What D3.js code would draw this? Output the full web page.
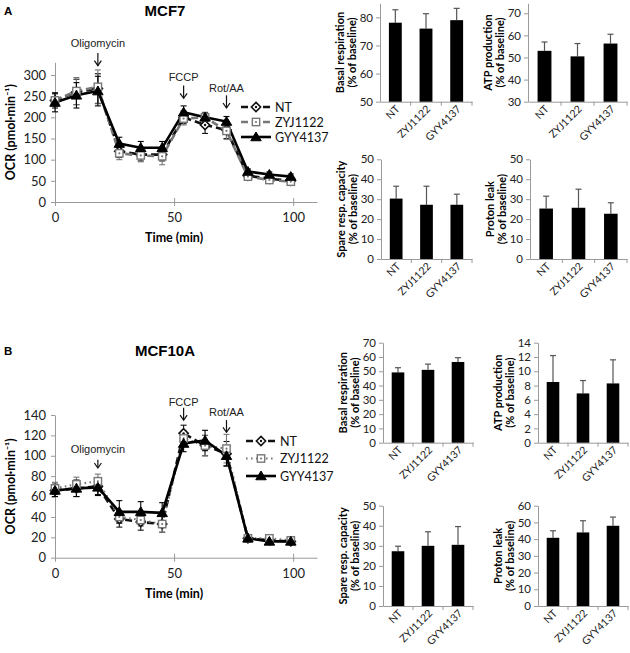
<!DOCTYPE html>
<html><head><meta charset="utf-8">
<script src="https://cdn.jsdelivr.net/npm/d3@7"></script>
<style>
body{margin:0;background:#fff;}
svg{display:block;font-family:"Liberation Sans",Arial,sans-serif;}
</style></head><body>
<svg id="c" width="630" height="653"></svg>
<script>
// ---------- data ----------
const times = [0, 9, 18, 27, 36, 45, 54, 63, 72, 81, 90, 99];
const seriesNames = ["NT", "ZYJ1122", "GYY4137"];

const mcf7NT     = [240, 260, 268, 120, 112, 112, 200, 182, 170, 62, 55, 50];
const mcf7NTErr  = [18, 30, 35, 15, 15, 15, 15, 20, 20, 8, 6, 6];
const mcf7ZYJ    = [240, 262, 272, 115, 110, 108, 197, 200, 168, 60, 52, 48];
const mcf7ZYJErr = [15, 32, 40, 15, 15, 20, 15, 12, 20, 6, 6, 6];
const mcf7GYY    = [235, 252, 262, 138, 128, 128, 212, 200, 190, 72, 65, 60];
const mcf7GYYErr = [22, 30, 35, 15, 15, 15, 15, 10, 12, 6, 6, 6];

const mcf10aNT     = [66, 68, 70, 38, 35, 33, 122, 110, 102, 19, 17, 16];
const mcf10aNTErr  = [6, 8, 8, 8, 8, 8, 8, 10, 12, 3, 3, 2];
const mcf10aZYJ    = [68, 72, 75, 40, 37, 33, 117, 110, 107, 19, 19, 17];
const mcf10aZYJErr = [6, 7, 7, 6, 6, 8, 8, 10, 14, 3, 3, 2];
const mcf10aGYY    = [66, 68, 69, 45, 45, 44, 112, 115, 100, 19, 16, 16];
const mcf10aGYYErr = [6, 8, 8, 11, 10, 10, 8, 10, 10, 3, 3, 2];

const mcf7Ticks = [0, 50, 100, 150, 200, 250, 300];
const mcf10aTicks = [0, 20, 40, 60, 80, 100, 120, 140];
const timeTicks = [0, 50, 100];

const injectionsA = [
  {label: "Oligomycin", t: 18, tip: 322, base: 352, text: 366},
  {label: "FCCP", t: 54, tip: 245, base: 275, text: 285},
  {label: "Rot/AA", t: 72, tip: 222, base: 252, text: 259}
];
const injectionsB = [
  {label: "Oligomycin", t: 18, tip: 88, base: 96, text: 103},
  {label: "FCCP", t: 54, tip: 135, base: 147, text: 149},
  {label: "Rot/AA", t: 72, tip: 123, base: 135, text: 139}
];

const barCats = ["NT", "ZYJ1122", "GYY4137"];
const mcf7Basal = [78.1, 76.0, 79.0];     const mcf7BasalErr = [4.6, 5.3, 4.2];
const mcf7ATP = [53.0, 50.5, 56.3];       const mcf7ATPErr = [4.0, 5.8, 4.2];
const mcf7Spare = [30.3, 27.2, 27.2];     const mcf7SpareErr = [6.2, 9.3, 5.3];
const mcf7Leak = [25.3, 25.7, 22.7];      const mcf7LeakErr = [6.2, 9.3, 5.5];
const mcf10aBasal = [49.2, 51.0, 56.5];   const mcf10aBasalErr = [3.3, 4.0, 3.0];
const mcf10aATP = [8.5, 6.9, 8.3];        const mcf10aATPErr = [3.7, 1.8, 3.3];
const mcf10aSpare = [27.3, 30.0, 30.5];   const mcf10aSpareErr = [2.5, 7.0, 9.1];
const mcf10aLeak = [40.8, 44.0, 48.0];    const mcf10aLeakErr = [4.2, 7.0, 5.2];

// ---------- drawing ----------
const svg = d3.select("#c");
const AXC = "#9a9a9a";
const FONT2 = "Lato, 'Open Sans', sans-serif";

function styleAxis(g) {
  g.select(".domain").attr("stroke", AXC).attr("stroke-width", 1);
  g.selectAll(".tick line").attr("stroke", AXC);
  g.selectAll(".tick text").attr("fill", "#222").attr("font-family", FONT2);
}

function marker(g, type, color, size) {
  const s = size;
  if (type === "diamond") {
    g.append("path").attr("d", `M0,${-s}L${s},0L0,${s}L${-s},0Z`)
      .attr("fill", "#fff").attr("stroke", color).attr("stroke-width", 1.6);
    g.append("circle").attr("r", 1.2).attr("fill", color);
  } else if (type === "square") {
    g.append("rect").attr("x", -s * 0.8).attr("y", -s * 0.8).attr("width", s * 1.6).attr("height", s * 1.6)
      .attr("fill", "#fff").attr("stroke", color).attr("stroke-width", 1.4);
    g.append("circle").attr("r", 1.1).attr("fill", color);
  } else {
    g.append("path").attr("d", `M0,${-s}L${s * 1.05},${s * 0.75}L${-s * 1.05},${s * 0.75}Z`)
      .attr("fill", color).attr("stroke", color).attr("stroke-width", 1);
  }
}

function linePanel(cfg) {
  const x = d3.scaleLinear().domain([0, 110]).range([55, 317]);
  const y = d3.scaleLinear().domain(cfg.yDomain).range(cfg.yRange);
  const g = svg.append("g");

  const ya = g.append("g").attr("transform", `translate(${x(0)},0)`)
    .call(d3.axisLeft(y).tickValues(cfg.yTicks).tickSize(4).tickPadding(5).tickSizeOuter(0));
  styleAxis(ya);
  ya.selectAll(".tick text").attr("font-size", 13);

  const xa = g.append("g").attr("transform", `translate(0,${y(0)})`)
    .call(d3.axisBottom(x).tickValues(timeTicks).tickSize(4).tickPadding(7).tickSizeOuter(0));
  styleAxis(xa);
  xa.selectAll(".tick text").attr("font-size", 13);
  xa.selectAll(".tick line").attr("y1", -4);

  g.append("text").attr("x", x(50)).attr("y", y(0) + 40).attr("text-anchor", "middle")
    .attr("font-weight", "bold").attr("font-size", 12.5).attr("font-family", FONT2).text("Time (min)");
  g.append("text").attr("transform", `translate(15,${(y(0) + y(cfg.yDomain[1])) / 2}) rotate(-90)`)
    .attr("text-anchor", "middle").attr("font-weight", "bold").attr("font-size", 12.5)
    .attr("font-family", FONT2).text("OCR (pmol·min⁻¹)");

  // title & letter
  svg.append("text").attr("x", 165).attr("y", cfg.titleY).attr("text-anchor", "middle")
    .attr("font-weight", "bold").attr("font-size", 15).text(cfg.title);
  svg.append("text").attr("x", 4).attr("y", cfg.titleY - 1).attr("font-weight", "bold")
    .attr("font-size", 11.5).text(cfg.letter);

  // error bars
  cfg.series.forEach(s => {
    const eg = g.append("g").attr("stroke", s.color).attr("stroke-width", 1.1);
    times.forEach((t, i) => {
      const lo = y(s.vals[i] - s.errs[i]), hi = y(s.vals[i] + s.errs[i]);
      eg.append("line").attr("x1", x(t)).attr("x2", x(t)).attr("y1", lo).attr("y2", hi);
      eg.append("line").attr("x1", x(t) - 3).attr("x2", x(t) + 3).attr("y1", lo).attr("y2", lo);
      eg.append("line").attr("x1", x(t) - 3).attr("x2", x(t) + 3).attr("y1", hi).attr("y2", hi);
    });
  });
  // lines
  const line = d3.line().x((d, i) => x(times[i])).y(d => y(d));
  cfg.series.forEach(s => {
    g.append("path").attr("d", line(s.vals)).attr("fill", "none").attr("stroke", s.color)
      .attr("stroke-width", s.width).attr("stroke-dasharray", s.dash);
  });
  // markers
  cfg.series.forEach(s => {
    s.vals.forEach((v, i) => {
      const mg = g.append("g").attr("transform", `translate(${x(times[i])},${y(v)})`);
      marker(mg, s.marker, s.color, s.marker === "triangle" ? 5 : 4.6);
    });
  });

  // injections
  cfg.injections.forEach(a => {
    const ax = x(a.t);
    g.append("text").attr("x", ax).attr("y", y(a.text)).attr("text-anchor", "middle")
      .attr("font-size", 11).attr("fill", "#222").text(a.label);
    g.append("line").attr("x1", ax).attr("x2", ax).attr("y1", y(a.base)).attr("y2", y(a.tip))
      .attr("stroke", "#111").attr("stroke-width", 1.2);
    g.append("path").attr("d", `M${ax - 3.5},${y(a.tip) - 5}L${ax},${y(a.tip)}L${ax + 3.5},${y(a.tip) - 5}`)
      .attr("fill", "none").attr("stroke", "#111").attr("stroke-width", 1.2);
  });

  // legend
  cfg.series.forEach((s, i) => {
    const ly = cfg.legY + i * cfg.legDy;
    const lg = g.append("g");
    lg.append("line").attr("x1", cfg.legX).attr("x2", cfg.legX + 30).attr("y1", ly).attr("y2", ly)
      .attr("stroke", s.color).attr("stroke-width", s.width).attr("stroke-dasharray", s.legDash || s.dash);
    const mg = lg.append("g").attr("transform", `translate(${cfg.legX + 15},${ly})`);
    marker(mg, s.marker, s.color, s.marker === "triangle" ? 5 : 4.6);
    lg.append("text").attr("x", cfg.legX + 34).attr("y", ly + 4.5).attr("font-size", 12.5)
      .attr("font-family", FONT2).attr("fill", "#111").text(seriesNames[i]);
  });
}

linePanel({
  title: "MCF7", letter: "A", titleY: 16,
  yDomain: [0, 330], yRange: [202, 62.3], yTicks: mcf7Ticks,
  injections: injectionsA, legX: 241, legY: 107, legDy: 15,
  series: [
    {vals: mcf7NT, errs: mcf7NTErr, color: "#111", width: 2.6, dash: "7,4", marker: "diamond"},
    {vals: mcf7ZYJ, errs: mcf7ZYJErr, color: "#777", width: 2.6, dash: "7,4", marker: "square"},
    {vals: mcf7GYY, errs: mcf7GYYErr, color: "#000", width: 2.6, dash: null, marker: "triangle"}
  ]
});
linePanel({
  title: "MCF10A", letter: "B", titleY: 356,
  yDomain: [0, 140], yRange: [557.7, 415], yTicks: mcf10aTicks,
  injections: injectionsB, legX: 246, legY: 441, legDy: 17.5,
  series: [
    {vals: mcf10aNT, errs: mcf10aNTErr, color: "#111", width: 2.6, dash: "7,4", marker: "diamond"},
    {vals: mcf10aZYJ, errs: mcf10aZYJErr, color: "#777", width: 2.2, dash: "1.6,3.4", marker: "square"},
    {vals: mcf10aGYY, errs: mcf10aGYYErr, color: "#000", width: 2.6, dash: null, marker: "triangle"}
  ]
});

function barPanel(cfg) {
  const x = d3.scaleBand().domain(barCats).range([cfg.x0, cfg.x1]).paddingInner(0).paddingOuter(0);
  const y = d3.scaleLinear().domain(cfg.domain).range([cfg.yb, cfg.yt]);
  const g = svg.append("g");

  const ya = g.append("g").attr("transform", `translate(${cfg.x0},0)`)
    .call(d3.axisLeft(y).tickValues(cfg.ticks).tickSize(4).tickPadding(3).tickSizeOuter(0));
  styleAxis(ya);
  ya.selectAll(".tick text").attr("font-size", 11.5);

  const xa = g.append("g").attr("transform", `translate(0,${cfg.yb})`)
    .call(d3.axisBottom(x).tickSize(0).tickFormat(""));
  styleAxis(xa);
  // category boundary ticks
  barCats.forEach((c, i) => {
    const bx = x(c) + x.bandwidth();
    xa.append("line").attr("x1", bx).attr("x2", bx).attr("y1", 0).attr("y2", 4).attr("stroke", AXC);
  });
  // category labels
  barCats.forEach(c => {
    const cx = x(c) + x.bandwidth() / 2;
    g.append("text").attr("transform", `translate(${cx + 5},${cfg.yb + 8}) rotate(-45)`)
      .attr("text-anchor", "end").attr("font-size", 10.5).attr("font-family", FONT2)
      .attr("fill", "#222").text(c);
  });

  const bw = x.bandwidth() * 0.42;
  cfg.vals.forEach((v, i) => {
    const cx = x(barCats[i]) + x.bandwidth() / 2;
    const top = y(v + cfg.errs[i]);
    g.append("line").attr("x1", cx).attr("x2", cx).attr("y1", y(v)).attr("y2", top)
      .attr("stroke", "#555").attr("stroke-width", 1.2);
    g.append("line").attr("x1", cx - 3).attr("x2", cx + 3).attr("y1", top).attr("y2", top)
      .attr("stroke", "#555").attr("stroke-width", 1.2);
    g.append("rect").attr("x", cx - bw / 2).attr("width", bw).attr("y", y(v))
      .attr("height", y(cfg.domain[0]) - y(v)).attr("fill", "#000");
  });

  const cy = (cfg.yb + cfg.yt) / 2;
  g.append("text").attr("transform", `translate(${cfg.x0 - 36},${cy}) rotate(-90)`)
    .attr("text-anchor", "middle").attr("font-weight", "bold").attr("font-size", 11)
    .attr("font-family", FONT2).text(cfg.t1);
  g.append("text").attr("transform", `translate(${cfg.x0 - 24},${cy}) rotate(-90)`)
    .attr("text-anchor", "middle").attr("font-weight", "bold").attr("font-size", 11)
    .attr("font-family", FONT2).text("(% of baseline)");
}

barPanel({x0: 380, x1: 472, yb: 101.7, yt: 3.3, domain: [50, 85], ticks: [50, 60, 70, 80],
  vals: mcf7Basal, errs: mcf7BasalErr, t1: "Basal respiration"});
barPanel({x0: 528, x1: 627, yb: 101.7, yt: 3.3, domain: [30, 74.5], ticks: [30, 40, 50, 60, 70],
  vals: mcf7ATP, errs: mcf7ATPErr, t1: "ATP production"});
barPanel({x0: 381, x1: 472, yb: 259, yt: 159.3, domain: [0, 50], ticks: [0, 10, 20, 30, 40, 50],
  vals: mcf7Spare, errs: mcf7SpareErr, t1: "Spare resp. capacity"});
barPanel({x0: 530, x1: 627, yb: 259, yt: 159.3, domain: [0, 50], ticks: [0, 10, 20, 30, 40, 50],
  vals: mcf7Leak, errs: mcf7LeakErr, t1: "Proton leak"});
barPanel({x0: 383, x1: 473, yb: 442.7, yt: 342.7, domain: [0, 70], ticks: [0, 10, 20, 30, 40, 50, 60, 70],
  vals: mcf10aBasal, errs: mcf10aBasalErr, t1: "Basal respiration"});
barPanel({x0: 538, x1: 628, yb: 442.7, yt: 342.7, domain: [0, 14], ticks: [0, 2, 4, 6, 8, 10, 12, 14],
  vals: mcf10aATP, errs: mcf10aATPErr, t1: "ATP production"});
barPanel({x0: 383, x1: 473, yb: 606, yt: 505.7, domain: [0, 50], ticks: [0, 10, 20, 30, 40, 50],
  vals: mcf10aSpare, errs: mcf10aSpareErr, t1: "Spare resp. capacity"});
barPanel({x0: 538, x1: 628, yb: 606, yt: 505.7, domain: [0, 60], ticks: [0, 10, 20, 30, 40, 50, 60],
  vals: mcf10aLeak, errs: mcf10aLeakErr, t1: "Proton leak"});
</script>
</body></html>
